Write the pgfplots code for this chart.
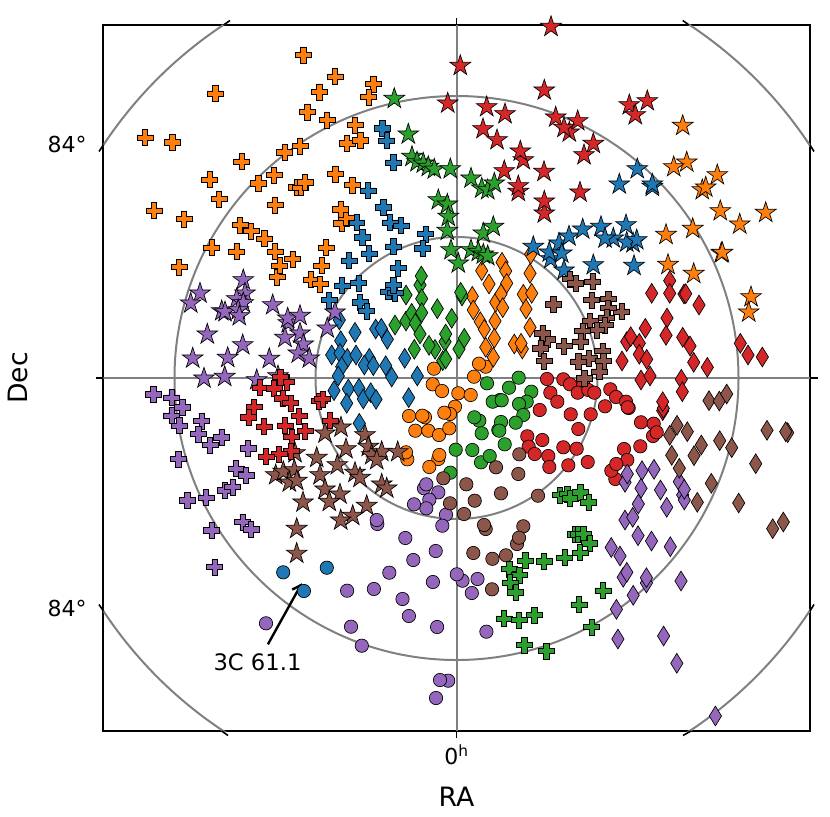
\documentclass[border=0pt]{standalone}
\usepackage{pgfplots}
\pgfplotsset{compat=1.18}
\usepackage{fontspec}
\setmainfont{DejaVu Sans}
\usetikzlibrary{arrows.meta}

\definecolor{tabblue}{HTML}{1F77B4}
\definecolor{taborange}{HTML}{FF7F0E}
\definecolor{tabgreen}{HTML}{2CA02C}
\definecolor{tabred}{HTML}{D62728}
\definecolor{tabpurple}{HTML}{9467BD}
\definecolor{tabbrown}{HTML}{8C564B}

% matplotlib's *, P, d and o
\pgfdeclareplotmark{mstar}{%
  \pgfpathmoveto{\pgfpointpolar{90}{8.2pt}}%
  \pgfpathlineto{\pgfpointpolar{126}{3.13pt}}%
  \pgfpathlineto{\pgfpointpolar{162}{8.2pt}}%
  \pgfpathlineto{\pgfpointpolar{198}{3.13pt}}%
  \pgfpathlineto{\pgfpointpolar{234}{8.2pt}}%
  \pgfpathlineto{\pgfpointpolar{270}{3.13pt}}%
  \pgfpathlineto{\pgfpointpolar{306}{8.2pt}}%
  \pgfpathlineto{\pgfpointpolar{342}{3.13pt}}%
  \pgfpathlineto{\pgfpointpolar{18}{8.2pt}}%
  \pgfpathlineto{\pgfpointpolar{54}{3.13pt}}%
  \pgfpathclose\pgfusepathqfillstroke}
\pgfdeclareplotmark{mplus}{%
  \pgfpathmoveto{\pgfqpoint{-2.1pt}{-6pt}}%
  \pgfpathlineto{\pgfqpoint{2.1pt}{-6pt}}%
  \pgfpathlineto{\pgfqpoint{2.1pt}{-2.1pt}}%
  \pgfpathlineto{\pgfqpoint{6pt}{-2.1pt}}%
  \pgfpathlineto{\pgfqpoint{6pt}{2.1pt}}%
  \pgfpathlineto{\pgfqpoint{2.1pt}{2.1pt}}%
  \pgfpathlineto{\pgfqpoint{2.1pt}{6pt}}%
  \pgfpathlineto{\pgfqpoint{-2.1pt}{6pt}}%
  \pgfpathlineto{\pgfqpoint{-2.1pt}{2.1pt}}%
  \pgfpathlineto{\pgfqpoint{-6pt}{2.1pt}}%
  \pgfpathlineto{\pgfqpoint{-6pt}{-2.1pt}}%
  \pgfpathlineto{\pgfqpoint{-2.1pt}{-2.1pt}}%
  \pgfpathclose\pgfusepathqfillstroke}
\pgfdeclareplotmark{mdiam}{%
  \pgfpathmoveto{\pgfqpoint{0pt}{7.4pt}}%
  \pgfpathlineto{\pgfqpoint{4.6pt}{0pt}}%
  \pgfpathlineto{\pgfqpoint{0pt}{-7.4pt}}%
  \pgfpathlineto{\pgfqpoint{-4.6pt}{0pt}}%
  \pgfpathclose\pgfusepathqfillstroke}
\pgfdeclareplotmark{mcirc}{%
  \pgfpathcircle{\pgfpointorigin}{5pt}\pgfusepathqfillstroke}

\pgfplotsset{pts/.style 2 args={only marks, mark=#1,
  mark options={draw=black, fill=#2, line width=0.5pt}}}

\begin{document}
\begin{tikzpicture}
\begin{scope}[x=0.75pt,y=-0.75pt,shift={(-77.475pt,548.25pt)}]
\path[use as bounding box] (0,0) rectangle (830,816);
\end{scope}
\begin{axis}[
    x=0.75pt, y=0.75pt,
    y dir=reverse,
    xmin=103.3, xmax=810, ymin=25, ymax=731,
    axis line style={line width=1.4pt},
    xtick={456.5}, xticklabels={0\textsuperscript{h}},
    ytick={144,608}, yticklabels={84°,84°},
    major tick length=0pt,
    tick label style={font=\fontsize{16.5}{18}\selectfont},
    xticklabel style={yshift=-6.5pt},
    yticklabel style={xshift=-9pt},
    xlabel={RA}, ylabel={Dec},
    every axis x label/.style={at={(axis cs:456.5,797)},anchor=center,font=\fontsize{20}{22}\selectfont},
    every axis y label/.style={at={(axis cs:18,378)},rotate=90,anchor=center,font=\fontsize{20}{22}\selectfont},
]
% grid
\draw[gray,line width=1.5pt] (axis cs:456.5,378) circle[radius=141];
\draw[gray,line width=1.5pt] (axis cs:456.5,378) circle[radius=282];
\draw[gray,line width=1.5pt] (axis cs:456.5,378) circle[radius=423];
\draw[gray,line width=1.5pt] (axis cs:456.5,25) -- (axis cs:456.5,731);
\draw[gray,line width=1.5pt] (axis cs:103.3,378) -- (axis cs:810,378);

% circles
\addplot[pts={mcirc}{tabblue}] coordinates {(283.2,572.3)(326.8,567.7)(303.9,591)};
\addplot[pts={mcirc}{taborange}] coordinates {
(432.7,384.3)(442,391)(458.3,393.3)(470.7,395)(455,406.7)(450,414)(444.3,412.7)(409,416)(425,417.3)(422.3,415.7)
(415.3,430.7)(428.3,430.7)(439,435)(449.3,428.3)(407.3,459.3)(406,452.3)(438.3,459)(439.3,455)(429.3,467)
(434,368.7)(485.7,366.7)(479,363.7)(474,376.7)};
\addplot[pts={mcirc}{tabgreen}] coordinates {
(487,383.3)(500,400)(492.7,401.7)(479.3,420.7)(474.3,417.3)(481.7,433.3)(498.3,430)(455.7,449.7)(472.3,450)
(481,462.3)(489.7,456)(450.3,472.7)(518.7,377.7)(509,387.7)(531.3,391.7)(526.7,401.7)(519,404)(501.7,400.3)
(523.3,415)(501,422)(515.7,422.7)(499.3,430.7)(504.7,444.3)};
\addplot[pts={mcirc}{tabred}] coordinates {
(547,379)(563.3,379.3)(570,384.3)(583.3,385)(577.7,392.7)(588.3,390)(594.3,392.7)(550.3,392.7)(557.3,401.7)
(539.7,410)(610.3,389.3)(616,397)(605,406.3)(626,401.7)(628.7,408)(627.7,407.3)(570.7,414.3)(590.7,414.3)
(578.3,429)(641,422.3)(653.7,423.7)(653,436)(656.7,432.3)(527.3,436.3)(542.3,440)(528.7,446.7)(534.7,454)
(563.3,447.3)(576.7,448.7)(548.3,456)(549.3,467)(568.3,465.3)(587.7,462)(624,449)(640.3,446.3)(627.3,460)
(615.3,479)(611.3,470.7)(616.3,464)};
\addplot[pts={mcirc}{tabpurple}] coordinates {
(424,488.3)(426.3,484.3)(438.3,492.3)(429.3,499.7)(426.3,508.3)(414,504.3)(446,514.7)(442.3,525.7)(377.3,524)
(376.7,520)(405.3,538)(435.7,551)(413.3,560)(389.3,572.7)(462.5,580.7)(456.8,574.3)(477.5,579)(432.9,582)
(471.8,593)(347.1,590.7)(373.9,589)(402.5,599)(408.9,616)(437.1,627)(486.4,631.7)(266,623.3)(351,626.7)
(361.8,645.7)(448.2,680.7)(440,680)(436,698)};
\addplot[pts={mcirc}{tabbrown}] coordinates {
(519.3,454.3)(496,467.3)(518.3,474)(501,493.3)(538,495.7)(523.3,526.3)(517,544)(519,537.7)(506,555.3)(492.4,558.8)
(443.3,478.3)(466.3,484.3)(450,503.3)(474.7,500.7)(464,514)(485.7,529)(484,525)(473.3,553)(492,589.3)};

% diamonds
\addplot[pts={mdiam}{tabblue}] coordinates {
(339.3,320)(355,332.3)(375.7,329)(381.3,328.3)(387.3,339.3)(340.7,340.7)(331.7,355)(340,353.3)(347.3,358.3)
(356,355)(369.3,358.3)(364.3,365)(373.3,365.7)(385.7,365.7)(391.7,377)(404.7,358.3)(417.3,376)(341.7,366.7)
(338.3,376)(334,390.7)(348.3,389)(359,388.3)(346.7,403.3)(363.3,399)(370.7,392.7)(376,399.3)(408.7,397.7)(359.3,423.3)};
\addplot[pts={mdiam}{taborange}] coordinates {
(481.7,270.7)(489,284)(472.3,296.3)(473.3,310)(495.7,302.3)(480.3,321.7)(495,321)(484.3,329.3)(494.3,338.3)
(485.7,347.3)(493.3,357.3)(502,262.3)(505.7,271)(530,273.3)(506.7,283.3)(501,294)(523.3,294.3)(531.7,293.3)
(502.7,307.7)(526,309)(530,327.3)(514.3,344)(522.3,349)(521,343.3)(530.7,254.3)};
\addplot[pts={mdiam}{tabgreen}] coordinates {
(420,285)(421.3,276)(406,295)(421.7,298.7)(437.3,308.7)(462,296)(460.7,292.3)(395,325)(406,321)(411.7,313.3)
(415.3,323.3)(421.7,312.7)(451.7,318.3)(420,334)(445,341.7)(445.7,334)(435,349.3)(429,345.3)(414.3,349.3)
(459,349)(464.3,338.3)(442.7,360.7)(445.7,359)};
\addplot[pts={mdiam}{tabred}] coordinates {
(651.7,293.3)(669.7,280.7)(669.7,293.3)(684,294)(685.7,293.7)(699,305)(667,318)(645.3,328.3)(666,335.3)
(682.7,337.3)(690,346)(693.7,362.3)(707.3,367.3)(626.7,341.7)(630.7,336.7)(639.3,343.3)(639.3,354.3)(646.7,359.3)
(622,361)(641,380)(650,376)(681.3,379.3)(682.3,391.7)(740.3,343.3)(748,355)(762.3,357)(662.7,410.7)(663.3,408.3)(662.7,401.7)};
\addplot[pts={mdiam}{tabpurple}] coordinates {
(625,482.3)(627.3,474)(642,470.7)(654,469.3)(641,488.3)(660.5,490)(638.3,504)(666.7,507.3)(625,520)(632.7,517.3)
(638,535.7)(651.5,541)(670.3,546.7)(611.2,547.5)(620,556)(679.3,481.7)(682.7,495)(684.3,500)(684.3,489.3)
(623.2,577.3)(626.8,572.3)(646.4,583)(646.4,577.7)(681,581)(633.2,595.3)(616.4,609.3)(617.9,639)(663.6,636)
(676.8,663.3)(715.4,716)};
\addplot[pts={mdiam}{tabbrown}] coordinates {
(709,400.7)(719.3,401)(726.7,394)(677,425.3)(669.7,435.3)(687.3,431.7)(767,430.3)(787.7,432.7)(785.7,431.7)
(719.7,440.7)(701.3,445)(731.7,447.7)(694,455.7)(671.7,455.3)(755.7,463.7)(679.3,468.3)(711.3,483.3)(697.3,502.3)
(738.7,503)(783.3,522)(772.7,528.7)};

% stars
\addplot[pts={mstar}{tabblue}] coordinates {
(619.3,184.3)(637.3,169)(652.3,186.7)(652.3,184.3)(533.3,246.7)(550.7,259)(549.3,252.3)(559,243.3)(569,236.3)
(561.7,253.3)(582.7,229.3)(601,226.7)(613.3,238.3)(605,238.3)(626,225)(633,243)(626.7,242.3)(636.7,240)
(564,270.3)(593.3,265)(634,265.7)};
\addplot[pts={mstar}{taborange}] coordinates {
(682.7,125.7)(686.7,162.3)(673.7,167)(717.3,175)(702.3,190)(705.7,187.3)(720.3,211)(739.7,224.3)(765.7,212.7)
(692.7,228.7)(666,234.7)(721.3,253)(722.3,252.7)(668,264.7)(693.7,273.7)(751,297)(748.7,312.3)};
\addplot[pts={mstar}{tabgreen}] coordinates {
(394.3,98.7)(408.3,134.3)(412,156.7)(417,162)(423.3,163.3)(428.3,166.7)(434.3,169.3)(450.3,169)(471,178.3)
(481.7,188.3)(487.7,190)(494.3,183.3)(438.3,200)(447.3,204.3)(448.3,216.7)(447.3,230.7)(483.3,233.3)(493.3,226.7)
(451,250)(458.3,263.3)(471,250)(478.3,251.7)(483.3,254.3)(487.7,256)};
\addplot[pts={mstar}{tabred}] coordinates {
(460.3,65.7)(447.7,103.3)(551,26.7)(544.3,90.3)(486.7,107)(505,114)(555.7,117.3)(483,129)(577.7,121)(569.3,132.3)
(564,127.7)(497,140)(593.3,143.7)(523.3,160)(520.3,151.3)(584,155)(504.3,171)(544,171.7)(580,192.3)(518.3,191.7)
(518.3,186)(544.3,213.3)(544.3,201.3)(629.3,105)(647.3,101)(635.3,115)};
\addplot[pts={mstar}{tabpurple}] coordinates {
(243.3,280)(245,293.3)(200,293.3)(236.7,299)(190.7,303.3)(243.3,303)(272.7,305)(221.7,311)(225,312)(238.3,310)
(239.3,316)(288.3,323)(287.7,318.3)(300,315.7)(300,333.3)(207.3,334.3)(285,337.7)(303.3,344.3)(242.7,345)
(192.7,358.3)(227.7,357.7)(269.3,358.7)(298.3,353.3)(309.3,358.3)(204,378.3)(224.7,376.7)(256.7,380)(278,376)
(335,312.3)(327.3,328.3)};
\addplot[pts={mstar}{tabbrown}] coordinates {
(295,453)(316.7,457.7)(275.7,475)(283.3,471.7)(294.3,470)(289.3,482.3)(296.7,480.7)(320,475)(303,502.3)(296.7,528.7)
(296.7,553.5)(341,427.3)(325,433.3)(365,435)(368.3,446.7)(346,449)(371.7,455)(381.7,451.7)(376.7,460)(397.7,452)
(337.3,465)(355,472.7)(360,477.7)(381.7,484.3)(386.7,488.3)(325,489.3)(340,494.3)(329.3,501.7)(366.7,505.7)
(352.7,515.7)(340.7,520.3)};

% crosses
\addplot[pts={mplus}{tabblue}] coordinates {
(382.3,128.3)(386.7,140.7)(393.3,162.7)(368,190.7)(383.3,207.3)(356.7,222.7)(390,222.7)(401,225.7)(362.3,237.3)
(425.7,234)(393.3,246.7)(422.7,248.3)(369,253.7)(349,260.7)(398,268)(358.7,283)(342,285.7)(388.3,291.7)(395,293)
(393.3,285)(329,300)(360,302.3)(366.7,311)};
\addplot[pts={mplus}{taborange}] coordinates {
(215.3,93.7)(145,137.7)(172.3,142.3)(241.7,161.7)(209.7,179.7)(258.3,183.3)(274,175)(219,199)(284.7,152.3)(275,205)
(303.3,55)(335,76.7)(319.3,92)(373.3,84)(368.7,97)(307.3,112)(327,120)(355,125)(300,146)(347,143.3)(360.3,140.3)
(335.3,174)(352.3,185)(296.7,187.3)(300.7,187.7)(305,182.3)(154,210.7)(184,219)(240,225)(251,231)(264.3,238.7)
(211.7,247.7)(236.7,251.7)(275,251.7)(292.7,259)(277,277)(279.7,265.7)(179,267)(311,279.7)(320,284)(321.7,265.7)
(326,247.7)(341.7,223.3)(346,217.7)(340.7,209.3)};
\addplot[pts={mplus}{tabgreen}] coordinates {
(560,495)(567.3,494)(570,498.3)(580.3,492.3)(588.7,502.3)(575,534.3)(578.3,534.3)(583.3,534)(589.7,543.3)(580,552.8)
(564.8,557.8)(544,561.5)(525.3,560.8)(509.6,569)(519.6,575)(510,582.7)(515.7,592.3)(602.9,590.7)(578.9,604.7)
(504,618.7)(519,620)(534.6,615)(591.8,627)(524.3,645)(546.4,651)};
\addplot[pts={mplus}{tabred}] coordinates {
(286.7,382)(280.5,377)(260,387.7)(274,388.3)(282.7,398.3)(290.7,403)(254,407)(248.7,417.3)(299,416)(264,426.7)
(285,425.7)(305,431)(291.7,437)(291,451)(279,454)(266,456.7)(319,401)(322.7,399)(330,420.7)};
\addplot[pts={mplus}{tabpurple}] coordinates {
(153.3,394.3)(171.7,397.7)(182.3,407.3)(171.7,415.7)(179.3,425.7)(201.7,421)(198.3,434)(221.7,437.3)(210,445)
(248,448.3)(178.3,459)(236,468.7)(246,475.3)(225,490.3)(232.7,487)(206,497.7)(187.3,500.3)(211.7,530.3)(242.7,522)
(251,529.3)(214.7,567)};
\addplot[pts={mplus}{tabbrown}] coordinates {
(570,279)(575.7,283.3)(592.7,281.7)(591.7,300)(608.3,299)(553.3,304.3)(621.7,311.7)(608,308)(606.7,317.7)(590,321)
(605,325)(596.7,330)(582.7,331)(580.7,341.7)(547.3,339.3)(542.7,333.3)(564,346)(540.7,348.3)(602.7,351)(589,358.3)
(578.3,361.7)(603.3,361)(544,361)(599.3,371.7)(584.3,378.3)};

\draw[-{Straight Barb[length=6pt,width=8pt]},black,line width=1.8pt] (axis cs:267.9,644.3) -- (axis cs:301.8,583.3);
\node[font=\fontsize{17}{19}\selectfont] at (axis cs:257.5,662) {3C 61.1};
\end{axis}
\begin{scope}[x=0.75pt,y=-0.75pt,shift={(-77.475pt,548.25pt)},line width=1.2pt]
\draw (456.5,25) -- (456.5,18);
\draw (456.5,731) -- (456.5,738);
\draw (103.3,378) -- (96,378);
\draw (810,378) -- (818,378);
\draw (223.5,25) -- (230,20.5);
\draw (689,25) -- (682.7,20.5);
\draw (221.7,731) -- (228,735.5);
\draw (691,731) -- (683,735.5);
\draw (103.3,145) -- (99,151.5);
\draw (810,145) -- (814,151.5);
\draw (103.3,611) -- (99,604.5);
\draw (810,611) -- (814,604.5);
\end{scope}
\end{tikzpicture}
\end{document}
